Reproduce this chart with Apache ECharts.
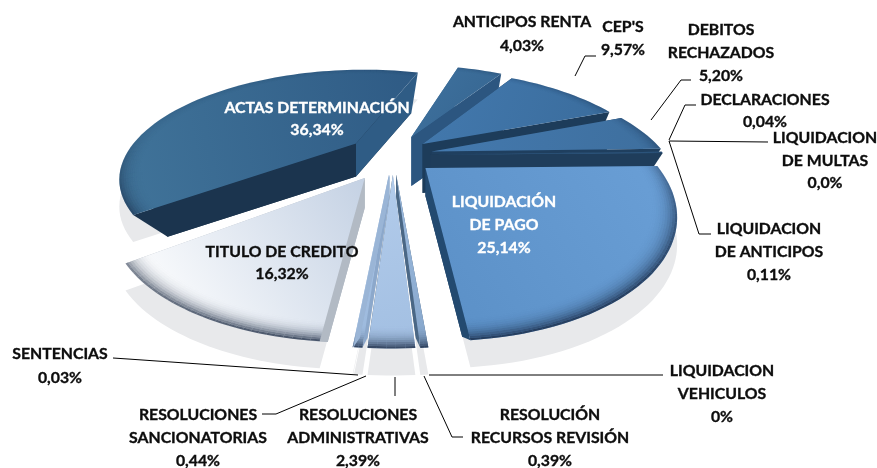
<!DOCTYPE html>
<html><head><meta charset="utf-8">
<style>html,body{margin:0;padding:0;background:#fff}#c{width:877px;height:468px}</style>
<script src="https://cdn.jsdelivr.net/npm/echarts@6/dist/echarts.min.js"></script>
</head><body><div id="c"></div>
<script>
const categories = ["ANTICIPOS RENTA","CEP'S","DEBITOS\nRECHAZADOS","DECLARACIONES","LIQUIDACION\nDE MULTAS","LIQUIDACION\nDE ANTICIPOS","LIQUIDACIÓN\nDE PAGO","LIQUIDACION\nVEHICULOS","RESOLUCIÓN\nRECURSOS REVISIÓN","RESOLUCIONES\nADMINISTRATIVAS","RESOLUCIONES\nSANCIONATORIAS","SENTENCIAS","TITULO DE CREDITO","ACTAS DETERMINACIÓN"];
const values = [4.03,9.57,5.20,0.04,0,0.11,25.14,0,0.39,2.39,0.44,0.03,16.32,36.34];
const percentLabels = ["4,03%","9,57%","5,20%","0,04%","0,0%","0,11%","25,14%","0%","0,39%","2,39%","0,44%","0,03%","16,32%","36,34%"];

// painter's order of the slices, back to front
const drawOrder = [13,0,1,2,3,5,6,12,8,10,11,9];
// 3D view of the disc
const view = {cx:393, cy:155, rx:234, ry:104, k:0.31, taper:0.87, startAngle:18, shadow:27};
const explode = [0.2,0.17,0.17,0.16,0.16,0.16,0.18,0.18,0.18,0.18,0.18,0.18,0.235,0.2];
const radiusScale = {12:[0.95,0.95],13:[0.985,0.985],6:[0.96,1.03]};
const depths = {0:49,1:49,2:45,3:45,5:45,13:33,12:30,6:28,8:22,9:22,10:22,11:22};
const faceStyle = {
  0:['#3f729f','#35648f'],1:['#4379ae','#3a6c9c'],2:['#4479ae','#3e6f9e'],3:['#4a80b6','#3e6f9e'],5:['#3a6c9c','#33618d'],
  6:['#6a9fd6','#5a8fc6'],8:['#9fbde0','#86a6cb'],9:['#b3cceb','#a2bfe2'],10:['#a9c5e8','#9cb9dc'],11:['#a9c5e8','#9cb9dc'],
  12:['#ffffff','#c5d2e4'],13:['#407399','#2f5b85']};
const faceDir = {12:[0.1,0.9,1,0.05],13:[0,0.6,1,0.2],6:[1,0,0,1]};
const wallStyle = {
  0:['#3a6a97','#2c5680'],1:['#1d3c5a','#1d3c5a'],2:['#1f3f5f','#1f3f5f'],3:['#203f5e','#203f5e'],5:['#1f3d5b','#1f3d5b'],
  6:['#1f4166','#234a70'],8:['#3f5a76','#4a6785'],9:['#8aa6c8','#41596f'],10:['#8ca8cb','#8ca8cb'],11:['#9ab5d6','#9ab5d6'],
  12:['#b2bac4','#b2bac4'],13:['#1b344e','#2f5c85']};
const labelLayout = [
 [522,22,24],[623,27,23],[721,30,23],[765,100,22],[825,138,22.5],[769,229,23],[504,202,23],
 [722,371,23],[550,415,23],[358,415,23],[198,415,23],[60,354,24],[282,252,22],[317,108,22]];
const leaderLines = {
 1:[[575,76],[585,56],[596,56]],2:[[651,120],[681,80],[691,80]],3:[[669,140],[685,105],[696,105]],
 4:[[669,141],[768,142]],5:[[669,141],[699,234],[711,234]],7:[[429,375],[663,375]],
 8:[[424,376],[452,437],[463,437]],9:[[395,377],[395,396]],10:[[366,376],[276,414],[262,414]],11:[[358,375],[128,359],[113,358]]};
const whiteLabels = {6:1,13:1};

const warp = a => a - 15*Math.exp(-Math.pow((a-245)/45,2)) + 3*Math.exp(-Math.pow((a-95)/35,2)) - Math.exp(-Math.pow((a-20)/25,2));
const total = values.reduce((s,v)=>s+v,0);
const spans = [];
(function(){let a=view.startAngle;values.forEach(v=>{const b=a+v/total*360;spans.push([a,b]);a=b;});})();

function disc(a,r){const t=warp(a)*Math.PI/180;return [r*Math.sin(t),-r*Math.cos(t)];}
function project(p,dz){const w=1-view.k*p[1];return [view.cx+view.rx*p[0]/w, view.cy+view.ry*p[1]/w+(dz||0)];}
function sliceGeom(i){
  const [a0,a1]=spans[i], mid=(warp(a0)+warp(a1))/2*Math.PI/180, e=explode[i], S=radiusScale[i]||[1,1];
  const off=[e*Math.sin(mid),-e*Math.cos(mid)];
  const pt=(a,r,dz)=>{const d=disc(a,r);return project([off[0]+d[0]*S[0],off[1]+d[1]*S[1]],dz);};
  const steps=Math.max(2,Math.ceil((a1-a0)/2));
  const arc=(r,dz)=>{const o=[];for(let s=0;s<=steps;s++)o.push(pt(a0+(a1-a0)*s/steps,r,dz));return o;};
  return {a0,a1,pt,arc,steps};
}
function poly(points,fill){return {type:'polygon',silent:true,shape:{points},style:{fill}};}

function renderShadow(params,api){
  const g=sliceGeom(api.value(0));
  return poly([g.pt(g.a0,0,view.shadow)].concat(g.arc(1,view.shadow)),'#e8e9eb');
}
function renderSlice(params,api){
  const i=api.value(0), g=sliceGeom(i), D=depths[i], T=view.taper, ch=[];
  const apexT=g.pt(g.a0,0,0), apexB=g.pt(g.a0,0,D);
  const w=wallStyle[i];
  ch.push(poly([apexB].concat(g.arc(T,D)),w[0]));
  ch.push(poly([apexT,g.pt(g.a0,1,0),g.pt(g.a0,T,D),apexB],w[0]));
  ch.push(poly([apexT,g.pt(g.a1,1,0),g.pt(g.a1,T,D),apexB],w[1]));
  const f=faceStyle[i], d=faceDir[i]||[0,0,1,1];
  ch.push(poly([apexT].concat(g.arc(1,0)),new echarts.graphic.LinearGradient(d[0],d[1],d[2],d[3],[{offset:0,color:f[0]},{offset:1,color:f[1]}])));
  // bevel: thin darkening rings along the outer rim
  const N=12, start=0.9;
  for(let n=0;n<N;n++){
    const r0=start+(1-start)*n/N, r1=start+(1-start)*(n+1)/N, t=(n+1)/N;
    for(let s=0;s<g.steps;s++){
      const a=g.a0+(g.a1-g.a0)*s/g.steps,b=g.a0+(g.a1-g.a0)*(s+1)/g.steps;
      const m=warp((a+b)/2)*Math.PI/180, y=-Math.cos(m), x=Math.sin(m);
      const fac=0.12+0.88*Math.max(0,(y+0.1)/1.1)+0.25*Math.max(0,x);
      ch.push(poly([g.pt(a,r0,0),g.pt(a,r1,0),g.pt(b,r1,0),g.pt(b,r0,0)],'rgba(20,35,60,'+(0.75*t*t*t*Math.min(1,fac)).toFixed(3)+')'));
    }
  }
  return {type:'group',children:ch};
}
function renderLabel(params,api){
  const i=api.value(0), [cx,y0,lh]=labelLayout[i], ch=[];
  const lines=categories[i].split('\n').concat(percentLabels[i]);
  const col=whiteLabels[i]?'#ffffff':'#0d0d0d';
  lines.forEach((t,n)=>ch.push({type:'text',silent:true,style:{text:t,x:cx,y:y0+n*lh,align:'center',verticalAlign:'middle',
    font:'bold 15.8px Lato',fill:col,stroke:col,lineWidth:0.35}}));
  if(leaderLines[i]) ch.push({type:'polyline',silent:true,shape:{points:leaderLines[i]},style:{fill:'none',stroke:'#000',lineWidth:1}});
  return {type:'group',children:ch};
}
const chart=echarts.init(document.getElementById('c'),null,{renderer:'canvas'});
const visible=drawOrder.map(i=>[i,values[i]]);
chart.setOption({
  animation:false,
  series:[
    {type:'custom',coordinateSystem:'none',z:1,renderItem:renderShadow,data:visible,silent:true},
    {type:'custom',coordinateSystem:'none',z:2,renderItem:renderSlice,data:visible,silent:true},
    {type:'custom',coordinateSystem:'none',z:3,renderItem:renderLabel,data:values.map((v,i)=>[i,v]),silent:true}
  ]
});
</script></body></html>
